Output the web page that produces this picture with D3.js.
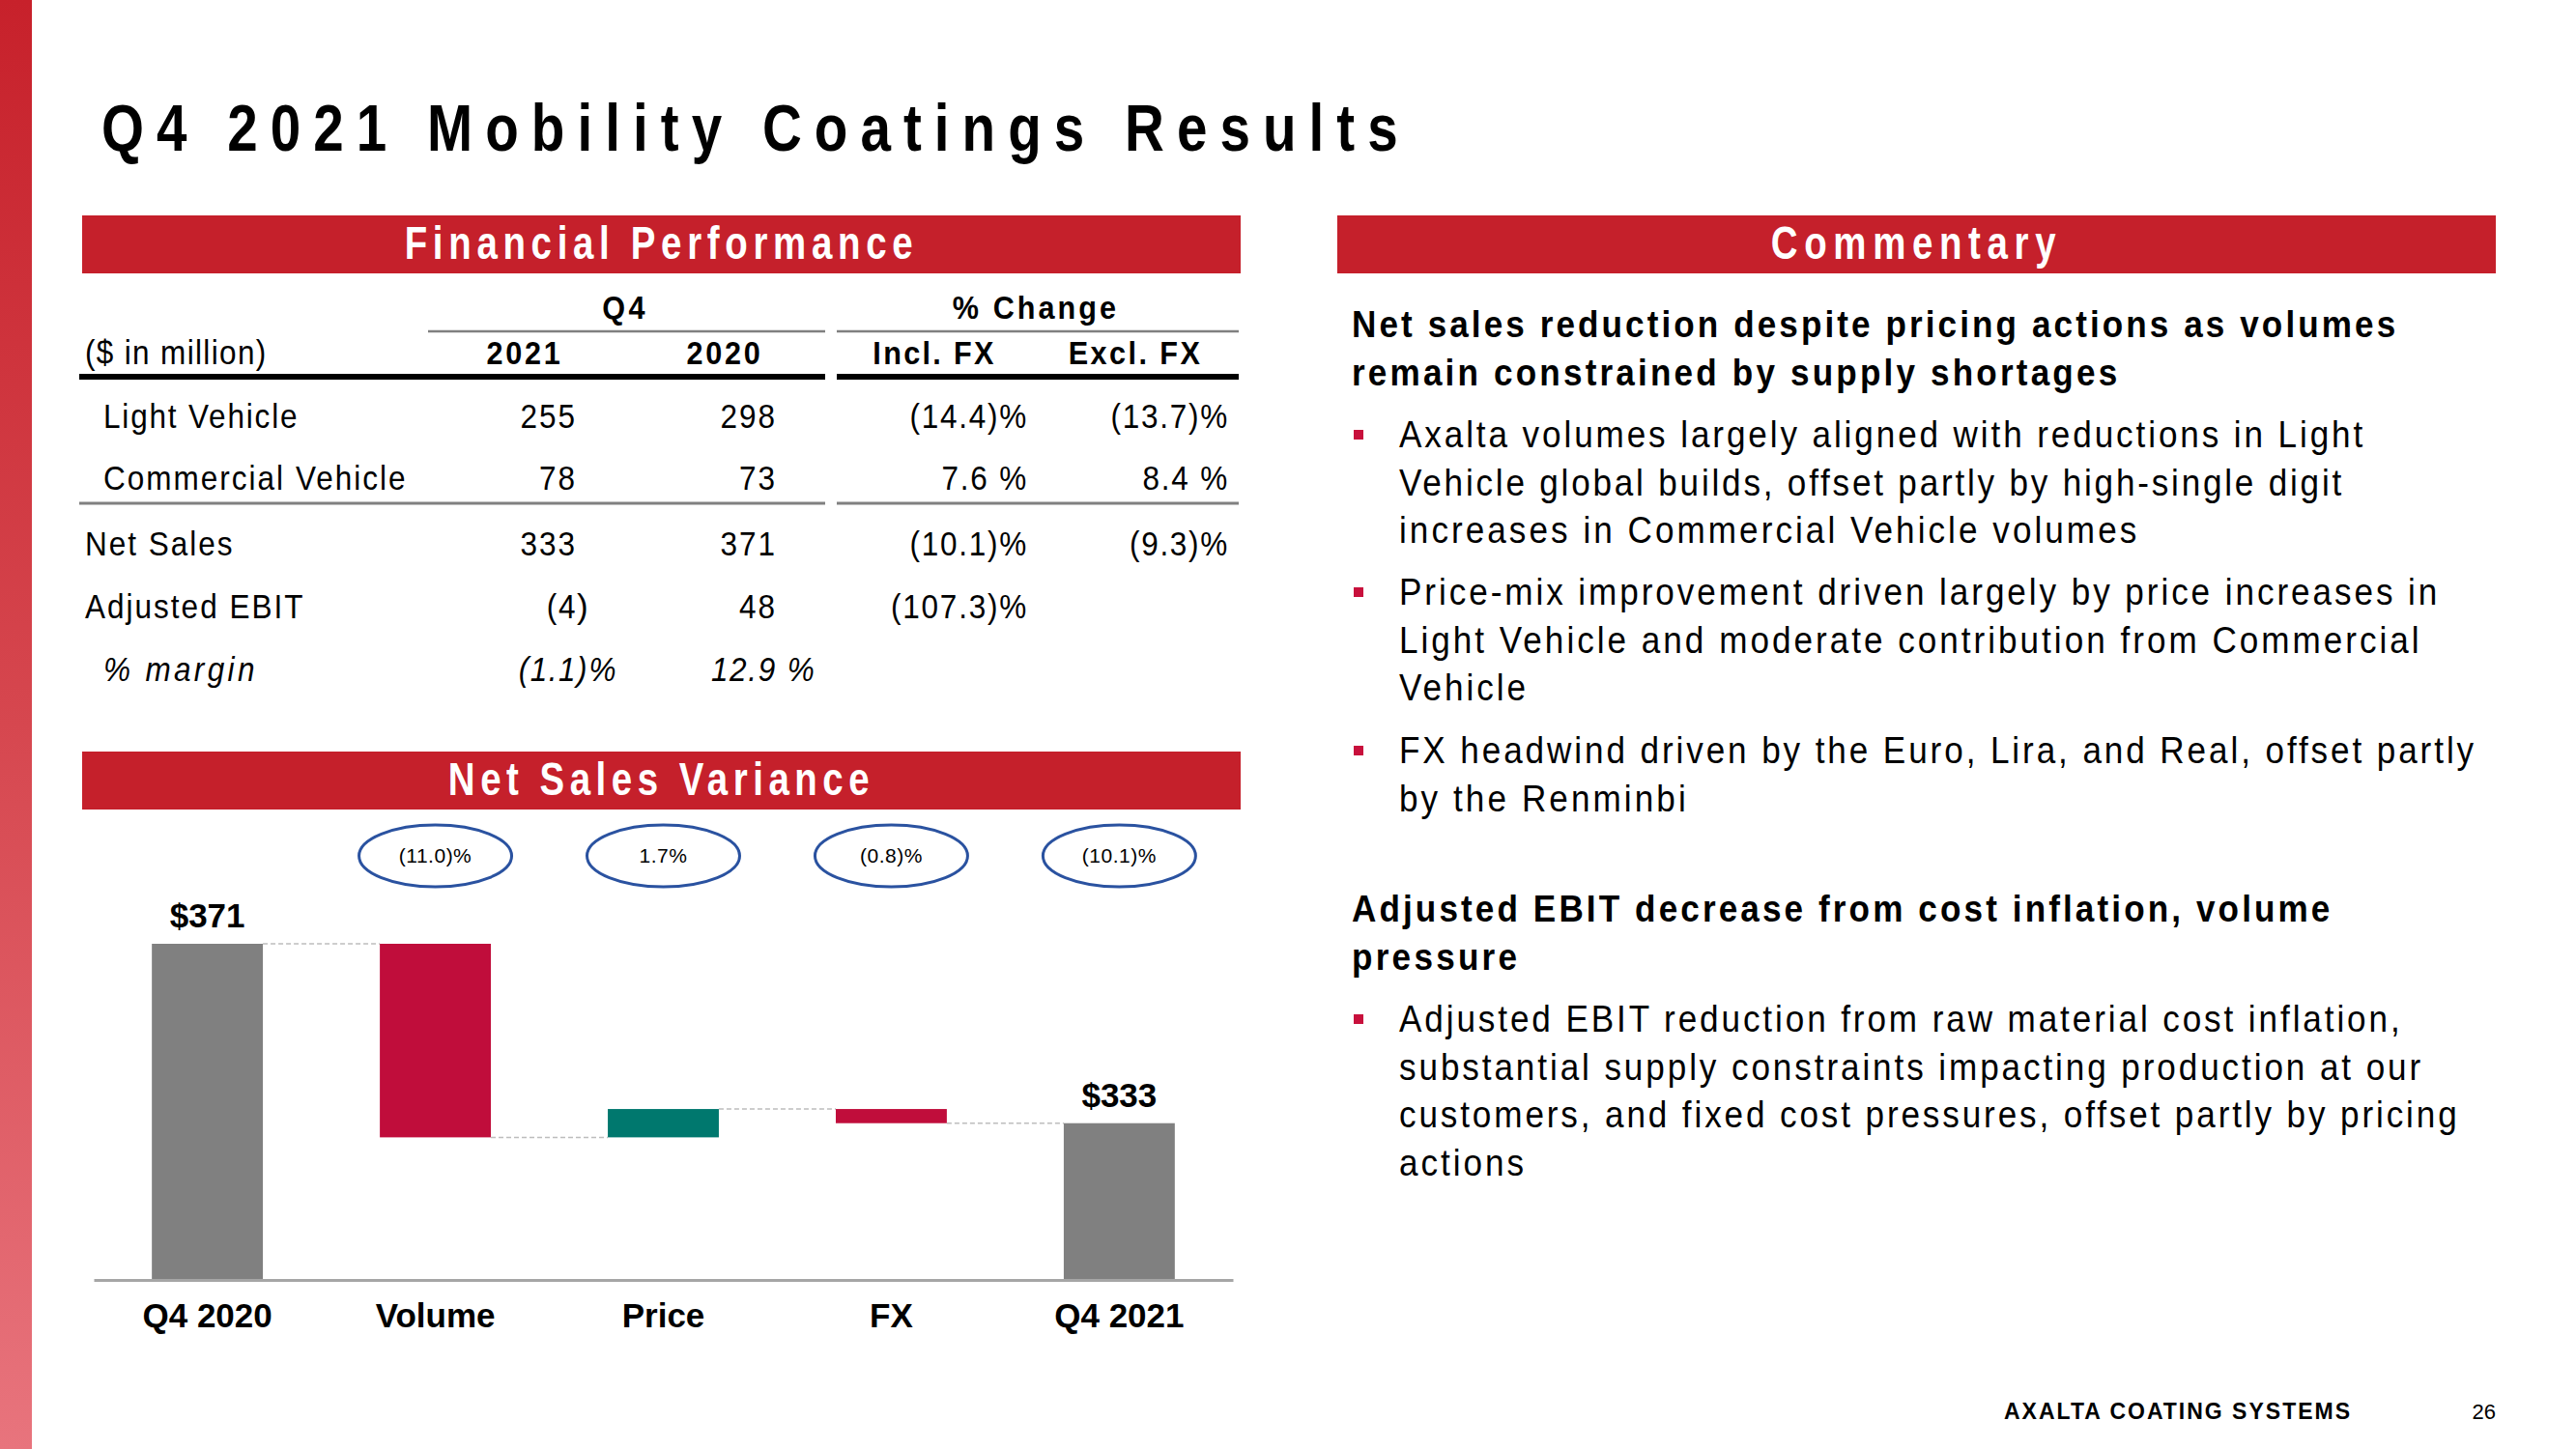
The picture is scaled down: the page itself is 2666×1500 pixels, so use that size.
<!DOCTYPE html>
<html>
<head>
<meta charset="utf-8">
<script src="https://cdn.jsdelivr.net/npm/d3@7"></script>
<style>
  html, body { margin: 0; padding: 0; background: #ffffff; }
  svg { display: block; }
  text { font-family: "Liberation Sans", Arial, Helvetica, sans-serif; }
</style>
</head>
<body>
<script>
// ---------------- DATA ----------------
const slideTitle = "Q4 2021 Mobility Coatings Results";
const headerFinancial = "Financial Performance";
const headerVariance = "Net Sales Variance";
const headerCommentary = "Commentary";

// Financial table
const tableUnitLabel = "($ in million)";
const groupHeaders = ["Q4", "% Change"];
const columnHeaders = ["2021", "2020", "Incl. FX", "Excl. FX"];
const rowLabels = ["Light Vehicle", "Commercial Vehicle", "Net Sales", "Adjusted EBIT", "% margin"];
const rowIndented = [true, true, false, false, true];
const rowItalic = [false, false, false, false, true];
const col2021 = ["255", "78", "333", "(4)", "(1.1)%"];
const col2020 = ["298", "73", "371", "48", "12.9 %"];
const colInclFX = ["(14.4)%", "7.6 %", "(10.1)%", "(107.3)%", ""];
const colExclFX = ["(13.7)%", "8.4 %", "(9.3)%", "", ""];

// Waterfall
const categories = ["Q4 2020", "Volume", "Price", "FX", "Q4 2021"];
const barKinds = ["total", "delta", "delta", "delta", "total"];
const barValues = [371, -41, 6, -3, 333];
const totalLabels = ["$371", "", "", "", "$333"];
const pctLabels = ["", "(11.0)%", "1.7%", "(0.8)%", "(10.1)%"];
const axisBase = 300;

// Commentary
const heading1 = ["Net sales reduction despite pricing actions as volumes", "remain constrained by supply shortages"];
const bullets1 = [
  ["Axalta volumes largely aligned with reductions in Light", "Vehicle global builds, offset partly by high-single digit", "increases in Commercial Vehicle volumes"],
  ["Price-mix improvement driven largely by price increases in", "Light Vehicle and moderate contribution from Commercial", "Vehicle"],
  ["FX headwind driven by the Euro, Lira, and Real, offset partly", "by the Renminbi"]
];
const heading2 = ["Adjusted EBIT decrease from cost inflation, volume", "pressure"];
const bullets2 = [
  ["Adjusted EBIT reduction from raw material cost inflation,", "substantial supply constraints impacting production at our", "customers, and fixed cost pressures, offset partly by pricing", "actions"]
];
const footerBrand = "AXALTA COATING SYSTEMS";
const pageNumber = "26";

// ---------------- STYLE ----------------
const RED = "#c5202b";
const BAR_GRAY = "#808080";
const BAR_NEG = "#c00d3b";
const BAR_POS = "#00786e";
const OVAL = "#2a52a0";
const BULLET = "#c8103c";

const W = 2666, H = 1500;
const svg = d3.select("body").append("svg").attr("width", W).attr("height", H);

// condensed look: squeeze glyphs horizontally, widen spacing, keep overall width
function condense(sel, s) {
  sel.each(function () {
    const el = this;
    const n = el.textContent.length;
    if (n < 2) return;
    const w0 = el.getComputedTextLength();
    const ls0 = parseFloat(el.getAttribute("letter-spacing") || 0);
    const wn = w0 - n * ls0;
    const ls1 = (w0 / s - wn) / n;
    const ax = parseFloat(el.getAttribute("x") || 0);
    el.setAttribute("letter-spacing", ls1);
    el.setAttribute("transform", `translate(${ax},0) scale(${s},1) translate(${-ax},0)`);
  });
}

// left gradient strip
const defs = svg.append("defs");
const grad = defs.append("linearGradient").attr("id", "strip").attr("x1", 0).attr("y1", 0).attr("x2", 0).attr("y2", 1);
grad.append("stop").attr("offset", "0%").attr("stop-color", "#c7212b");
grad.append("stop").attr("offset", "50%").attr("stop-color", "#d6474f");
grad.append("stop").attr("offset", "100%").attr("stop-color", "#e8747d");
svg.append("rect").attr("x", 0).attr("y", 0).attr("width", 33).attr("height", H).attr("fill", "url(#strip)");

// title
const titleText = svg.append("text").attr("x", 105).attr("y", 156)
  .attr("font-size", 69).attr("font-weight", "bold").attr("letter-spacing", 6.9)
  .attr("fill", "#000").text(slideTitle);
condense(titleText, 0.82);

// header bars
function headerBar(x, y, w, h, label) {
  svg.append("rect").attr("x", x).attr("y", y).attr("width", w).attr("height", h).attr("fill", RED);
  const t = svg.append("text").attr("x", x + w / 2).attr("y", y + 45).attr("text-anchor", "middle")
    .attr("font-size", 48).attr("font-weight", "bold").attr("letter-spacing", 0.8)
    .attr("fill", "#fff").text(label);
  condense(t, 0.8);
}
headerBar(85, 223, 1199, 60, headerFinancial);
headerBar(1384, 223, 1199, 60, headerCommentary);
headerBar(85, 778, 1199, 60, headerVariance);

// ---------------- TABLE ----------------
const T = svg.append("g");
const fs = 35;
T.append("text").attr("x", 647).attr("y", 330).attr("text-anchor", "middle")
  .attr("font-size", 34).attr("font-weight", "bold").attr("letter-spacing", 1).text(groupHeaders[0]);
T.append("text").attr("x", 1072).attr("y", 330).attr("text-anchor", "middle")
  .attr("font-size", 34).attr("font-weight", "bold").attr("letter-spacing", 1).text(groupHeaders[1]);
T.append("line").attr("x1", 443).attr("x2", 854).attr("y1", 343).attr("y2", 343).attr("stroke", "#808080").attr("stroke-width", 2.5);
T.append("line").attr("x1", 866).attr("x2", 1282).attr("y1", 343).attr("y2", 343).attr("stroke", "#808080").attr("stroke-width", 2.5);

const headerCenters = [543, 750, 967, 1175];
T.append("text").attr("x", 88).attr("y", 377).attr("font-size", fs).text(tableUnitLabel);
columnHeaders.forEach((h, i) => {
  T.append("text").attr("x", headerCenters[i]).attr("y", 377).attr("text-anchor", "middle")
    .attr("font-size", 34).attr("font-weight", "bold").attr("letter-spacing", 0.8).text(h);
});
T.append("line").attr("x1", 82).attr("x2", 854).attr("y1", 390).attr("y2", 390).attr("stroke", "#000").attr("stroke-width", 6);
T.append("line").attr("x1", 866).attr("x2", 1282).attr("y1", 390).attr("y2", 390).attr("stroke", "#000").attr("stroke-width", 6);

const rowBaselines = [443, 507, 575, 640, 705];
T.append("line").attr("x1", 82).attr("x2", 854).attr("y1", 521).attr("y2", 521).attr("stroke", "#808080").attr("stroke-width", 3);
T.append("line").attr("x1", 866).attr("x2", 1282).attr("y1", 521).attr("y2", 521).attr("stroke", "#808080").attr("stroke-width", 3);

function digitAligned(val, edge, y, italic) {
  if (!val) return;
  const m = val.match(/^(\(?[\d.]+)(.*)$/);
  const pre = m ? m[1] : val, suf = m ? m[2] : "";
  T.append("text").attr("x", edge).attr("y", y).attr("text-anchor", "end").attr("font-size", fs)
    .attr("font-style", italic ? "italic" : "normal").text(pre);
  if (suf) T.append("text").attr("x", edge).attr("y", y).attr("text-anchor", "start").attr("font-size", fs)
    .attr("font-style", italic ? "italic" : "normal").style("white-space", "pre").text(suf);
}
rowLabels.forEach((lab, i) => {
  const y = rowBaselines[i];
  T.append("text").attr("x", rowIndented[i] ? 107 : 88).attr("y", y).attr("font-size", fs)
    .attr("font-style", rowItalic[i] ? "italic" : "normal").attr("letter-spacing", rowItalic[i] ? 1.5 : 0.3).text(lab);
  digitAligned(col2021[i], 597, y, rowItalic[i]);
  digitAligned(col2020[i], 804, y, rowItalic[i]);
  if (colInclFX[i]) T.append("text").attr("x", 1064).attr("y", y).attr("text-anchor", "end").attr("font-size", fs)
    .style("white-space", "pre").text(colInclFX[i]);
  if (colExclFX[i]) T.append("text").attr("x", 1272).attr("y", y).attr("text-anchor", "end").attr("font-size", fs)
    .style("white-space", "pre").text(colExclFX[i]);
});
condense(T.selectAll("text"), 0.9);

// ---------------- WATERFALL ----------------
const x = d3.scaleBand().domain(categories).range([97, 1276]).paddingInner(0.513).paddingOuter(0.255);
const y = d3.scaleLinear().domain([axisBase, 371]).range([1324, 977]);

let running = 0;
const bars = categories.map((c, i) => {
  let lo, hi, color, start, end;
  if (barKinds[i] === "total") {
    lo = axisBase; hi = barValues[i]; color = BAR_GRAY; end = barValues[i]; running = barValues[i];
  } else {
    start = running; end = running + barValues[i]; running = end;
    lo = Math.min(start, end); hi = Math.max(start, end);
    color = barValues[i] < 0 ? BAR_NEG : BAR_POS;
  }
  return { c, i, lo, hi, color, end };
});

const WF = svg.append("g");
for (let i = 0; i < bars.length - 1; i++) {
  const level = bars[i].end;
  WF.append("line").attr("x1", x(categories[i]) + x.bandwidth()).attr("x2", x(categories[i + 1]))
    .attr("y1", y(level)).attr("y2", y(level))
    .attr("stroke", "#bdbdbd").attr("stroke-width", 1.5).attr("stroke-dasharray", "5,3");
}
WF.selectAll("rect.bar").data(bars).enter().append("rect").attr("class", "bar")
  .attr("x", d => x(d.c)).attr("width", x.bandwidth())
  .attr("y", d => y(d.hi)).attr("height", d => y(d.lo) - y(d.hi))
  .attr("fill", d => d.color);

WF.selectAll("text.tot").data(bars.filter(d => totalLabels[d.i])).enter().append("text").attr("class", "tot")
  .attr("x", d => x(d.c) + x.bandwidth() / 2).attr("y", d => y(d.hi) - 17)
  .attr("text-anchor", "middle").attr("font-size", 35).attr("font-weight", "bold")
  .text(d => totalLabels[d.i]);

const ovals = WF.selectAll("g.oval").data(categories.map((c, i) => ({ c, i })).filter(d => pctLabels[d.i])).enter()
  .append("g").attr("class", "oval")
  .attr("transform", d => `translate(${x(d.c) + x.bandwidth() / 2},886)`);
ovals.append("ellipse").attr("rx", 79).attr("ry", 32).attr("fill", "none").attr("stroke", OVAL).attr("stroke-width", 3);
ovals.append("text").attr("y", 7).attr("text-anchor", "middle").attr("font-size", 21).attr("letter-spacing", 0.5)
  .text(d => pctLabels[d.i]);

const axis = WF.append("g").attr("transform", "translate(0,1325)")
  .call(d3.axisBottom(x).tickSize(0).tickSizeOuter(0).tickPadding(24));
axis.select(".domain").attr("stroke", "#a6a6a6").attr("stroke-width", 3);
axis.selectAll(".tick text").attr("font-size", 35).attr("font-weight", "bold").attr("fill", "#000")
  .attr("font-family", "'Liberation Sans', Arial, sans-serif");

// ---------------- COMMENTARY ----------------
const C = svg.append("g");
function heading(lines, y0) {
  lines.forEach((l, k) => {
    C.append("text").attr("x", 1399).attr("y", y0 + k * 50).attr("font-size", 39).attr("font-weight", "bold")
      .attr("letter-spacing", 1.2).text(l);
  });
}
function bulletBlock(lines, y0) {
  C.append("rect").attr("x", 1401).attr("y", y0 - 18).attr("width", 10).attr("height", 10).attr("fill", BULLET);
  lines.forEach((l, k) => {
    C.append("text").attr("x", 1448).attr("y", y0 + k * 49.7).attr("font-size", 39)
      .attr("letter-spacing", 1.2).text(l);
  });
}
heading(heading1, 349);
const b1Starts = [463, 626, 790];
bullets1.forEach((b, i) => bulletBlock(b, b1Starts[i]));
heading(heading2, 954);
bulletBlock(bullets2[0], 1068);
condense(C.selectAll("text"), 0.9);

// footer
svg.append("text").attr("x", 2074).attr("y", 1469).attr("font-size", 23).attr("font-weight", "bold")
  .attr("letter-spacing", 2).text(footerBrand);
svg.append("text").attr("x", 2583).attr("y", 1469).attr("text-anchor", "end").attr("font-size", 22)
  .text(pageNumber);
</script>
</body>
</html>
